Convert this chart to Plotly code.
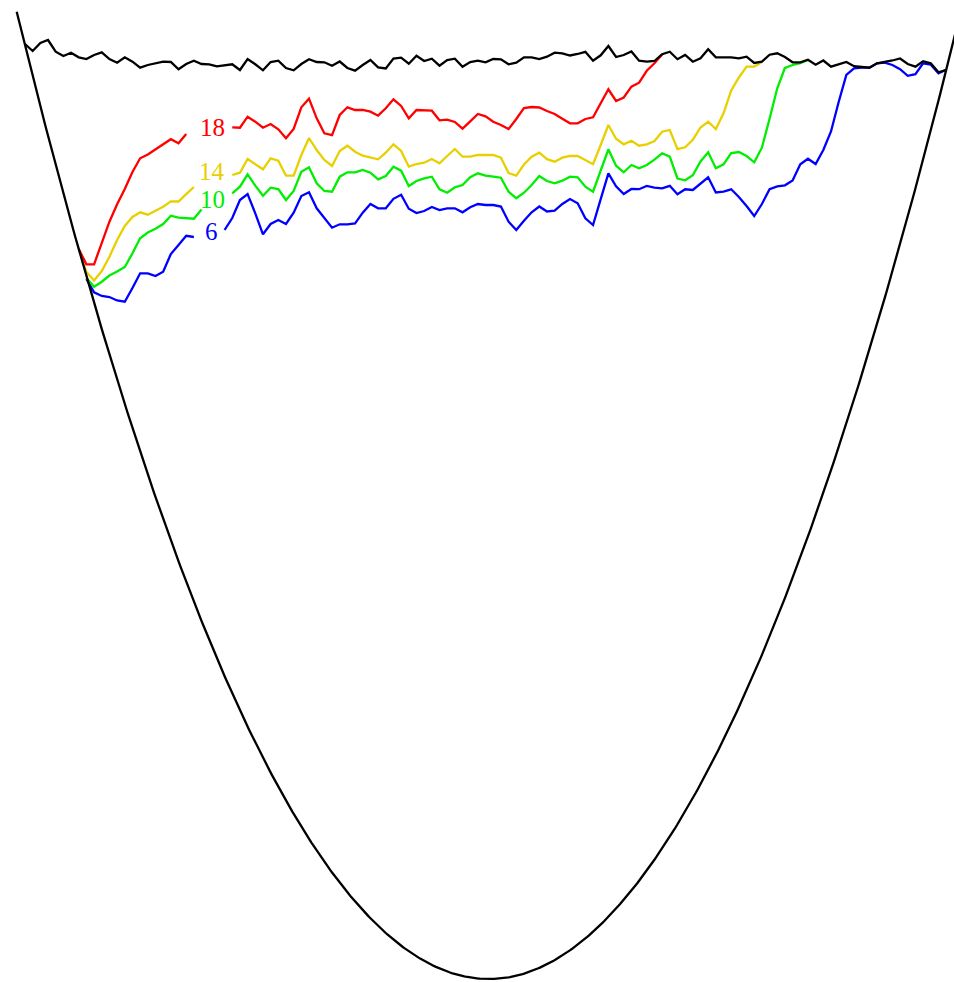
import plotly.graph_objects as go

# Uniform sampling grid of the position coordinate (normalised, well centre = 0)
X_START = -0.98242
X_STEP = 0.016263

# Potential well: E = WELL_DEPTH * x^2, drawn for -1 <= x <= 1
WELL_DEPTH = 967.3
WELL_X = [-1.0, 1.0]

# Energy levels (arbitrary units, 0 = bottom of the well)
BLACK_START = 0
BLACK = [
    935, 928, 936, 939, 927.3, 923, 926.3, 921.7, 920, 924,
    926.7, 920, 916.3, 921.7, 917.3, 911.3, 914, 915.7, 917.3, 917,
    909.7, 915, 918.3, 915, 914.7, 912.7, 913.7, 914.7, 909, 920,
    914.7, 908.7, 917, 918.3, 911, 908.7, 915, 919.8, 917, 916.7,
    913.3, 917.5, 911, 908.3, 914, 919, 911.7, 910.5, 920.5, 921.3,
    915.3, 923.3, 918, 920.3, 913.3, 919, 920.3, 912.3, 917, 918.3,
    916.7, 920, 919.7, 914.7, 916.3, 921.7, 921.7, 920, 922.3, 926.3,
    925.7, 923.5, 925, 927.2, 918.3, 923.7, 933, 922, 924, 927.5,
    918.3, 917.3, 918, 924.8, 927.3, 919.8, 924, 917.3, 920.7, 929.8,
    921.7, 921.7, 921.7, 920.7, 922.3, 916, 917.3, 924.3, 925.7, 922,
    916.7, 916.7, 919.3, 914.3, 918.5, 912.3, 914.5, 917, 912.8, 912.3,
    911.3, 915.7, 917, 918.5, 920.5, 915, 912.3, 917.8, 915.7, 906.7, 909,
]

RED_START = 7
RED_18 = [
    730, 714.7, 714.7,
    736.3, 757.3, 774.7, 790, 807, 820.7, 824.5, 829.5, 834.5, 839.8,
    835.7, 845, None, None, None, None, None, 851.7, 851.3, 862.3,
    857.3, 851.3, 855, 849.7, 840.7, 850, 871.7, 880.3, 860.7, 845.7,
    843.8, 864, 871.7, 869, 869, 867.3, 863.3, 870.7, 879.7, 873,
    860.7, 869, 868.3, 868.3, 858.7, 859.3, 857, 850.3, 857.7, 865,
    862.7, 857.3, 854, 850, 860, 871, 872, 871.5, 868, 865,
    860.3, 855.7, 855.7, 860, 861.7, 875.7, 889.7, 878, 881.5, 892.3,
    896.3, 908.2, 915.7, 924.5,
]

YELLOW_START = 7
YELLOW_14 = [
    730, 707, 698.5,
    708, 722.3, 739, 753, 762, 766.7, 764.3, 768.3, 772.3, 777.7,
    777.5, 784.8, 792, None, None, None, None, 804, 806.3, 820,
    815, 809.7, 820.7, 818.3, 803.3, 803.3, 824, 841, 829, 819,
    813, 828, 833.3, 827.3, 823.3, 821.3, 819.7, 826.3, 834.7, 828,
    812.3, 815, 816.3, 820, 815.7, 823, 830, 822.3, 822.3, 824,
    824, 824, 821.3, 806, 803.3, 814.5, 822.3, 826.3, 819.8, 817.3,
    821.3, 823, 823, 819, 814.8, 834, 854, 840.3, 834.7, 838.3,
    833.3, 834.7, 838, 847.3, 849, 829.8, 831.7, 839.3, 851.5, 857.3,
    850, 865.7, 888.5, 901.5, 912.3, 912.3, 917,
]

GREEN_START = 8
GREEN_10 = [
    701, 692.3,
    697.3, 703.5, 707.5, 712, 725.7, 740.7, 746.5, 750.2, 755, 763.3,
    761.3, 760.7, 760.3, 769.5, None, None, None, 785.7, 792.3, 804.7,
    793.3, 783.3, 791.3, 790, 779, 788, 807.3, 811.7, 795.7, 788,
    787.3, 802.3, 806.7, 806.7, 809, 806.3, 799.7, 803, 812.3, 808.3,
    793, 798, 800.7, 802.3, 789.7, 786.3, 791.7, 794, 801.7, 805.7,
    803.3, 802.3, 801.3, 787.3, 780.7, 786.3, 794, 803, 798, 795.7,
    798.3, 802.3, 801.7, 792.3, 787.3, 808.5, 829.7, 813.3, 806.7, 814,
    810.7, 814, 819.3, 825.7, 822.3, 800.5, 798.7, 803.7, 817.5, 826.7,
    810.7, 814.7, 826, 827, 823, 816.7, 831.3, 860.3, 890.7, 911,
    914, 915.8, 919,
]

BLUE_START = 8
BLUE_6 = [
    700, 686.7,
    683, 682, 678.5, 677.3, 691, 705.7, 705.7, 703, 707.3, 725,
    734, 743.2, 742, None, None, None, 749, 761, 779, 785,
    765.7, 744.7, 755, 759, 755, 766.3, 783, 786.7, 770.7, 760.7,
    751.3, 754.7, 754.7, 755.7, 766.3, 775, 770.7, 770.7, 780.2, 784.3,
    770.3, 766, 768, 772, 769, 770.7, 770.7, 766.7, 771.7, 775,
    774, 774, 772.5, 757.3, 749, 758.3, 766.7, 772.5, 767.5, 768.3,
    775, 780, 775.7, 760.7, 754, 779.8, 805.7, 792.7, 785, 790,
    789.8, 793, 791.3, 790.7, 793.2, 784.8, 789.7, 789, 795.7, 801.7,
    786.5, 787.3, 789.7, 782, 773, 763, 775, 789.8, 792.7, 793.7,
    798.5, 814.7, 820.3, 815, 829, 847.5, 877, 904, 910.7, 911.5,
    911.3, 915.7, 916.3, 914, 909.8, 903.2, 904.8, 915.7, 914.3, 905.7, 909.3,
]

LABELS = ["18", "14", "10", "6"]
LABEL_COLORS = ["#ff0000", "#e8d000", "#00ee00", "#0000ff"]
LABEL_X = [-0.5862, -0.5862, -0.5862, -0.5869]
LABEL_Y = [852.0, 807.5, 779.5, 748.0]

X_RANGE = [-1.03538, 0.98581]
Y_RANGE = [-3, 979]
LINE_W = 2.3


def grid(start, values):
    return [X_START + X_STEP * (start + k) for k in range(len(values))]


fig = go.Figure()

series = [
    (BLUE_START, BLUE_6, "#0000ff"),
    (GREEN_START, GREEN_10, "#00ee00"),
    (YELLOW_START, YELLOW_14, "#e8d000"),
    (RED_START, RED_18, "#ff0000"),
]
for start, vals, col in series:
    fig.add_trace(go.Scatter(x=grid(start, vals), y=vals, mode="lines",
                             line=dict(color=col, width=LINE_W), connectgaps=False,
                             hoverinfo="skip"))

# potential well curve
n = 600
wx = [WELL_X[0] + (WELL_X[1] - WELL_X[0]) * i / (n - 1) for i in range(n)]
wy = [WELL_DEPTH * v * v for v in wx]
fig.add_trace(go.Scatter(x=wx, y=wy, mode="lines",
                         line=dict(color="black", width=LINE_W), hoverinfo="skip"))

fig.add_trace(go.Scatter(x=grid(BLACK_START, BLACK), y=BLACK, mode="lines",
                         line=dict(color="black", width=LINE_W), hoverinfo="skip"))

for txt, col, lx, ly in zip(LABELS, LABEL_COLORS, LABEL_X, LABEL_Y):
    fig.add_annotation(x=lx, y=ly, text=txt, showarrow=False,
                       xanchor="center", yanchor="middle",
                       font=dict(family="Liberation Serif", size=25, color=col))

fig.update_layout(
    width=954, height=982,
    margin=dict(l=0, r=0, t=0, b=0),
    paper_bgcolor="white", plot_bgcolor="white",
    showlegend=False,
    xaxis=dict(range=X_RANGE, visible=False, fixedrange=True),
    yaxis=dict(range=Y_RANGE, visible=False, fixedrange=True),
)

fig.write_html("out.html", config={"displayModeBar": False})

# remove the default page margin so the figure fills the window exactly
with open("out.html", "r", encoding="utf-8") as f:
    html = f.read()
html = html.replace("<head>", "<head><style>html,body{margin:0;padding:0;overflow:hidden;}</style>", 1)
with open("out.html", "w", encoding="utf-8") as f:
    f.write(html)
